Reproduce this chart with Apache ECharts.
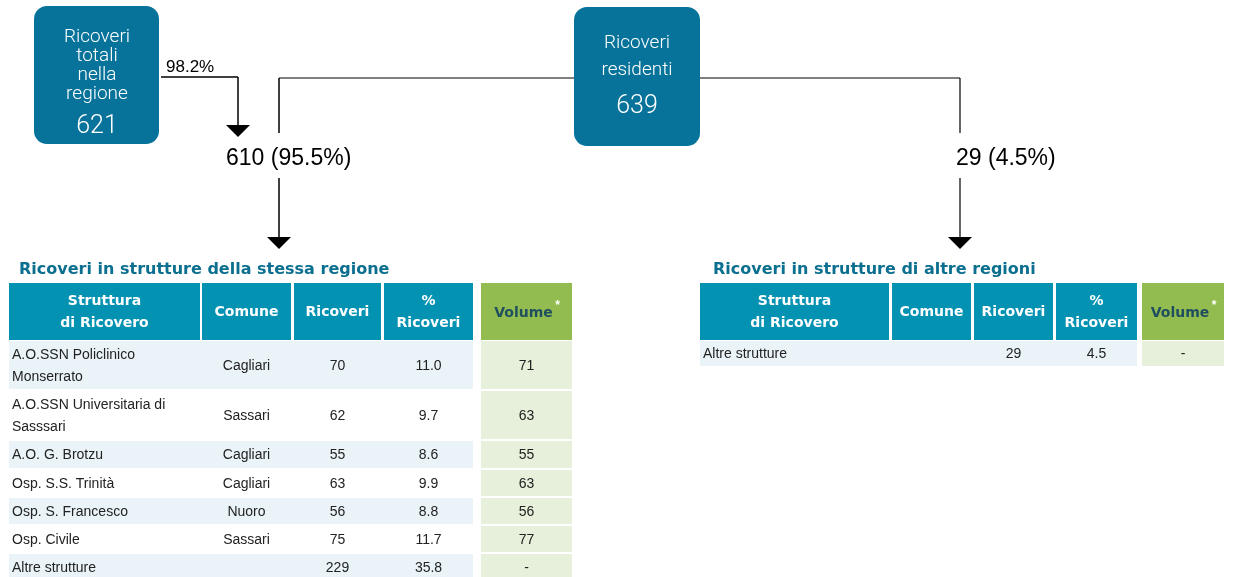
<!DOCTYPE html>
<html>
<head>
<meta charset="utf-8">
<script src="https://cdn.jsdelivr.net/npm/echarts@6/dist/echarts.min.js"></script>
<style>
  html, body { margin: 0; padding: 0; background: #fff; }
  #chart { width: 1233px; height: 577px; }
</style>
</head>
<body>
<div id="chart"></div>
<script>
// flow values
const totalRegion = 621;
const pctToRegion = 98.2;
const residents = 639;
const inRegion = 610;
const inRegionPct = 95.5;
const outRegion = 29;
const outRegionPct = 4.5;

// table: same region
const leftStructures = ['A.O.SSN Policlinico\nMonserrato', 'A.O.SSN Universitaria di\nSasssari', 'A.O. G. Brotzu', 'Osp. S.S. Trinità', 'Osp. S. Francesco', 'Osp. Civile', 'Altre strutture'];
const leftComune = ['Cagliari', 'Sassari', 'Cagliari', 'Cagliari', 'Nuoro', 'Sassari', ''];
const leftRicoveri = [70, 62, 55, 63, 56, 75, 229];
const leftPct = [11.0, 9.7, 8.6, 9.9, 8.8, 11.7, 35.8];
const leftVolume = [71, 63, 55, 63, 56, 77, null];

// table: other regions
const rightStructures = ['Altre strutture'];
const rightComune = [''];
const rightRicoveri = [29];
const rightPct = [4.5];
const rightVolume = [null];

const headers = [['Struttura', 'di Ricovero'], ['Comune'], ['Ricoveri'], ['%', 'Ricoveri']];

const BOX = '#07739a';
const HEAD = '#0492b3';
const TITLE = '#0b6f8f';
const GREEN = '#92bc50';
const LIGHTGREEN = '#e7f0da';
const LIGHTBLUE = '#eaf4f8';
const FONT = '"Liberation Sans", Arial, sans-serif';
const WIDE = '"DejaVu Sans", sans-serif';

const els = [];

function line(x1, y1, x2, y2, w) {
  els.push({ type: 'line', shape: { x1, y1, x2, y2 }, style: { stroke: '#000', lineWidth: w || 1.5 }, z: 1 });
}
function arrowHead(x, y) {
  els.push({ type: 'polygon', shape: { points: [[x - 12, y], [x + 12, y], [x, y + 12]] }, style: { fill: '#000' }, z: 2 });
}
function text(x, y, str, opt) {
  els.push({
    type: 'text', x, y, z: 5,
    style: Object.assign({ text: str, fill: '#222', font: '14px ' + FONT, align: 'center', verticalAlign: 'middle', lineHeight: 22 }, opt || {})
  });
}
function rect(x, y, w, h, fill, r) {
  els.push({ type: 'rect', shape: { x, y, width: w, height: h, r: r || 0 }, style: { fill }, z: 3 });
}

// boxes
rect(34, 6, 125, 138, BOX, 13);
text(97, 66, 'Ricoveri\ntotali\nnella\nregione', { fill: '#fff', font: '300 19px Roboto, ' + FONT, lineHeight: 19 });
text(97, 127, String(totalRegion), { fill: '#fff', font: '300 25px Roboto, ' + FONT });

rect(574, 7, 126, 139, BOX, 13);
text(637, 57, 'Ricoveri\nresidenti', { fill: '#fff', font: '300 19px Roboto, ' + FONT, lineHeight: 27 });
text(637, 107, String(residents), { fill: '#fff', font: '300 25px Roboto, ' + FONT });

// flow lines
line(161, 77, 238, 77);
line(238, 77, 238, 125);
arrowHead(238, 125);
text(166, 67, pctToRegion.toFixed(1) + '%', { align: 'left', fill: '#000', font: '17px ' + FONT });

line(279, 78, 960, 78, 1.2);
line(279, 78, 279, 133);
line(279, 178, 279, 237);
arrowHead(279, 237);
text(226, 159, inRegion + ' (' + inRegionPct.toFixed(1) + '%)', { align: 'left', fill: '#000', font: '23px ' + FONT });

line(960, 78, 960, 133, 1.2);
line(960, 178, 960, 237, 1.2);
arrowHead(960, 237);
text(956, 159, outRegion + ' (' + outRegionPct.toFixed(1) + '%)', { align: 'left', fill: '#000', font: '23px ' + FONT });

function table(title, titleX, cols, rowsTop, rowsH, structures, comune, ricoveri, pct, volume) {
  text(titleX, 270, title, { align: 'left', fill: TITLE, font: 'bold 16px ' + WIDE });
  // header
  for (let c = 0; c < 5; c++) {
    const [x0, x1] = cols[c];
    rect(x0, 283, x1 - x0, 57, c === 4 ? GREEN : HEAD);
    const cx = (x0 + x1) / 2;
    if (c < 4) {
      const h = headers[c];
      if (h.length === 2) {
        text(cx, 301, h[0], { fill: '#fff', font: 'bold 14px ' + WIDE });
        text(cx, 323, h[1], { fill: '#fff', font: 'bold 14px ' + WIDE });
      } else {
        text(cx, 312, h[0], { fill: '#fff', font: 'bold 14px ' + WIDE });
      }
    } else {
      text(cx - 3, 313, 'Volume', { fill: '#1f4e5f', font: 'bold 14px ' + WIDE });
      text(cx + 31, 306, '*', { fill: '#fff', font: 'bold 12px ' + FONT });
    }
  }
  // body
  for (let r = 0; r < structures.length; r++) {
    const y = rowsTop[r], h = rowsH[r], cy = y + h / 2 + 1;
    rect(cols[0][0], y, cols[3][1] - cols[0][0], h, r % 2 === 0 ? LIGHTBLUE : '#fff');
    rect(cols[4][0], y, cols[4][1] - cols[4][0], h, LIGHTGREEN);
    text(cols[0][0] + 3, cy, structures[r], { align: 'left' });
    text((cols[1][0] + cols[1][1]) / 2, cy, comune[r]);
    text((cols[2][0] + cols[2][1]) / 2, cy, String(ricoveri[r]));
    text((cols[3][0] + cols[3][1]) / 2, cy, pct[r].toFixed(1));
    text((cols[4][0] + cols[4][1]) / 2, cy, volume[r] == null ? '-' : String(volume[r]));
  }
}

table('Ricoveri in strutture della stessa regione', 19,
  [[9, 200], [202, 291], [294, 381], [384, 473], [481, 572]],
  [341, 391, 441, 470, 498, 526, 554], [48, 48, 27, 26, 26, 26, 26],
  leftStructures, leftComune, leftRicoveri, leftPct, leftVolume);

table('Ricoveri in strutture di altre regioni', 713,
  [[700, 889], [892, 971], [974, 1053], [1056, 1137], [1142, 1224]],
  [341], [25],
  rightStructures, rightComune, rightRicoveri, rightPct, rightVolume);

const chart = echarts.init(document.getElementById('chart'), null, { width: 1233, height: 577 });
chart.setOption({
  backgroundColor: '#fff',
  animation: false,
  graphic: { elements: els }
});
</script>
</body>
</html>
